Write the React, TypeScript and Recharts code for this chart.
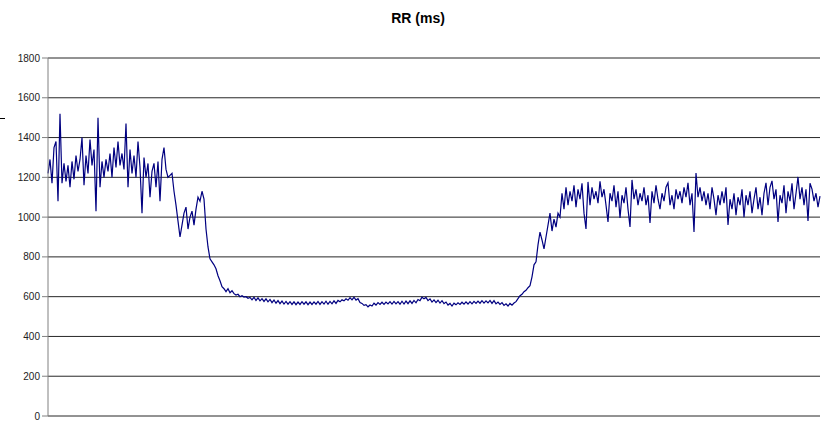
import { CartesianGrid, Line, LineChart, XAxis, YAxis } from "recharts"

// RR intervals, in ms
const rrBaseline = [
  1220, 1290, 1170, 1350, 1380, 1080, 1520, 1170, 1270, 1180,
  1260, 1150, 1280, 1190, 1310, 1230, 1290, 1400, 1160, 1310,
  1220, 1390, 1260, 1340, 1030, 1500, 1150, 1280, 1200, 1290,
  1230, 1320, 1200, 1350, 1250, 1380, 1260, 1320, 1240, 1470,
  1150, 1340, 1220, 1310, 1200, 1380, 1250, 1020, 1300, 1200,
  1270, 1100, 1230, 1270, 1150, 1280, 1080, 1290, 1350, 1240,
  1200, 1210
]

const rrDrop = [
  1220, 1130, 1060, 980, 900, 960, 1020, 1050, 940, 1000,
  1030, 960, 1040, 1100, 1080, 1130, 1090, 940, 850, 790,
  775, 760, 740, 705, 680, 650, 640, 625, 640, 620,
  630, 615, 608, 612, 600, 605, 598, 600, 592
]

const rrPlateau = [
  596, 584, 597, 581, 594, 579, 590, 576, 589, 574, 586,
  570, 583, 567, 580, 565, 578, 563, 576, 562, 575, 561,
  574, 560, 573, 561, 575, 562, 574, 560, 573, 561, 574,
  562, 576, 561, 575, 563, 577, 562, 576, 564, 579, 566,
  581, 574, 584, 579, 589, 582, 595, 584, 597, 583, 590,
  571, 566, 556, 560, 549, 558, 553, 567, 558, 570, 561,
  572, 561, 573, 564, 575, 563, 576, 564, 575, 562, 577,
  563, 578, 565, 579, 566, 581, 569, 586, 580, 597, 589,
  596, 580, 589, 573, 584, 570, 582, 568, 580, 565, 573,
  558, 566, 553, 567, 559, 569, 561, 572, 562, 574, 563,
  575, 564, 576, 566, 578, 567, 580, 568, 579, 569, 581,
  566, 580, 564, 573, 561, 570, 556, 564, 553, 566, 557,
  568
]

const rrRecovery = [
  575, 590, 605, 612, 625, 632, 645, 655, 700, 760,
  775, 860, 925, 885, 840, 900, 960, 1020, 930, 990,
  950, 1020, 1000
]

const rrRecovered = [
  1120, 1040, 1150, 1060, 1130, 1080, 1160, 1050, 1140, 1090,
  1170, 1020, 940, 1177, 1060, 1150, 1090, 1130, 1070, 1180,
  1100, 1140, 1060, 976, 1120, 1080, 1160, 1050, 1130, 996,
  1110, 1070, 1150, 1040, 951, 1187, 1090, 1140, 1060, 1120,
  1080, 1150, 1060, 1110, 971, 1130, 1070, 1160, 1090, 1040,
  1120, 1080, 1150, 1172, 1060, 1110, 1040, 1140, 1090, 1130,
  1070, 1150, 1100, 1172, 1060, 1120, 925, 1222, 1100, 1150,
  1080, 1130, 1060, 1120, 1040, 1150, 1090, 1010, 1110, 1060,
  1130, 1070, 1150, 961, 1090, 1040, 1120, 1010, 1100, 1060,
  1140, 1000, 1110, 1060, 1130, 1020, 1090, 1150, 1040, 1100,
  1010, 1120, 1172, 1060, 1150, 1182, 1090, 1140, 976, 1110,
  1070, 1160, 1020, 1130, 1080, 1170, 1040, 1120, 1202, 1090,
  1150, 1060, 1140, 981, 1170, 1141, 1080, 1120, 1050, 1106
]

const yTicks = [0, 200, 400, 600, 800, 1000, 1200, 1400, 1600, 1800]

const rrValues = [
  ...rrBaseline,
  ...rrDrop,
  ...rrPlateau,
  ...rrRecovery,
  ...rrRecovered
]

const data = rrValues.map((rr, beat) => ({ beat, rr }))

const font = "'Liberation Sans', Arial, sans-serif"

export default function App() {
  return (
    <div
      style={{
        position: "absolute",
        left: 0,
        top: 0,
        width: 821,
        height: 422,
        background: "#fff",
        fontFamily: font
      }}
    >
      <div
        style={{
          position: "absolute",
          left: 368,
          top: 10,
          width: 100,
          textAlign: "center",
          fontSize: 14,
          fontWeight: "bold",
          color: "#000"
        }}
      >
        RR (ms)
      </div>
      <div
        style={{
          position: "absolute",
          left: 0,
          top: 118,
          width: 5,
          height: 1,
          background: "#000"
        }}
      />
      <LineChart
        width={821}
        height={422}
        data={data}
        margin={{ top: 58, right: 1, bottom: 6, left: 0 }}
      >
        <CartesianGrid
          vertical={false}
          stroke="#000"
          strokeOpacity={0.85}
        />
        <XAxis
          dataKey="beat"
          type="number"
          domain={[0, rrValues.length - 1]}
          tick={false}
          tickLine={false}
          height={0}
          axisLine={{ stroke: "#000" }}
        />
        <YAxis
          width={48}
          domain={[0, 1800]}
          ticks={yTicks}
          interval={0}
          tickSize={6}
          tickMargin={2}
          axisLine={{ stroke: "#808080" }}
          tickLine={{ stroke: "#808080" }}
          tick={{ fill: "#222", fontSize: 10, fontFamily: font }}
        />
        <Line
          type="linear"
          dataKey="rr"
          stroke="#000080"
          strokeWidth={1.2}
          dot={false}
          isAnimationActive={false}
        />
      </LineChart>
    </div>
  )
}
